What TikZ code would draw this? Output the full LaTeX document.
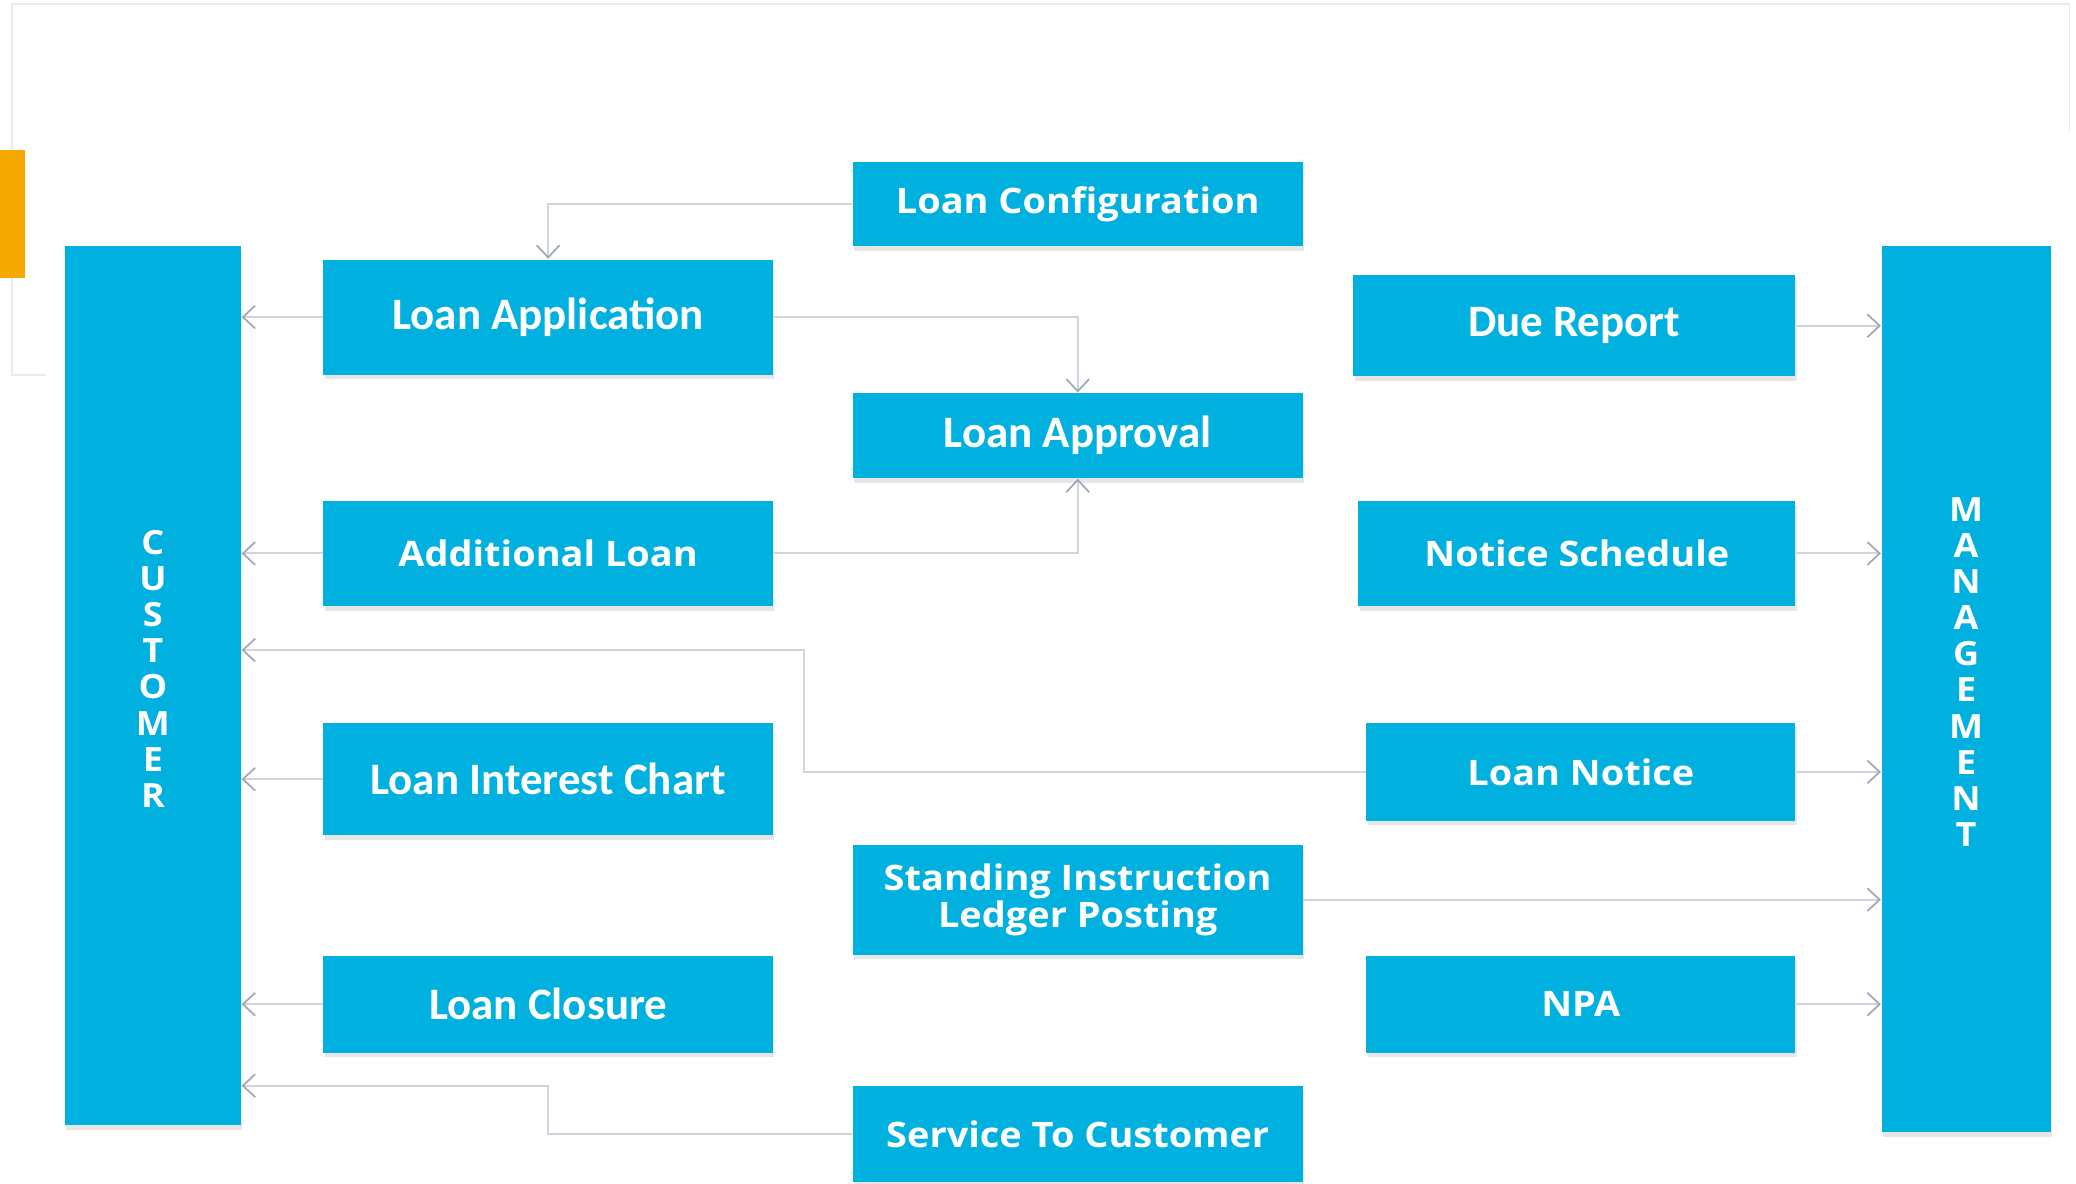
\documentclass[tikz,border=0pt]{standalone}
\usepackage{fontspec}
\setmainfont{Open Sans}[FakeStretch=1.08]
\newfontfamily\slimfont{Carlito}
\usepackage{tikz}
\usetikzlibrary{calc,positioning,shadows,arrows.meta}
\definecolor{boxblue}{RGB}{0,176,223}
\definecolor{linegray}{RGB}{208,212,220}
\definecolor{tipgray}{RGB}{160,168,185}
\definecolor{framegray}{RGB}{232,234,238}
\definecolor{barorange}{RGB}{245,168,0}
\tikzset{
	module/.style={
		fill=boxblue,
		text=white,
		font=\bfseries\fontsize{10}{10.5}\selectfont,
		align=center,
		inner sep=0,
		minimum width=4.5cm,
		drop shadow={shadow xshift=0.4pt, shadow yshift=-1.3pt, opacity=0.2}
	},
	slim/.style={
		font=\slimfont\bfseries\fontsize{12.8}{13}\selectfont
	},
	party/.style={
		fill=boxblue,
		inner sep=0,
		drop shadow={shadow xshift=0.4pt, shadow yshift=-1.3pt, opacity=0.2}
	},
	letters/.style={
		text=white,
		font=\bfseries\fontsize{9.5}{10.3}\selectfont,
		align=center,
		inner sep=0
	},
	flow/.style={
		draw=linegray,
		line width=0.6pt,
		-{Straight Barb[length=3.5pt,width=6.5pt,line width=0.5pt,color=tipgray]}
	}
}

\begin{document}
\begin{tikzpicture}[x=0.01324cm, y=-0.01324cm]

	\useasboundingbox (0,0) rectangle (1568,894);

	% Slide frame and marker
	\draw[framegray, line width=0.5pt] (35,283) -- (9,283) -- (9,3) -- (1563,3) -- (1563,100);
	\fill[barorange] (0,113) rectangle (19,210);

	%% Customer and Management
	\node[party, minimum width=1.76cm, minimum height=8.79cm] (cust) at (115.5,518) {};
	\node[party, minimum width=1.69cm, minimum height=8.86cm] (mgmt) at (1485,520.5) {};
	\node[letters] (custtxt) at (115.5,505) {C\\U\\S\\T\\O\\M\\E\\R};
	\node[letters] (mgmttxt) at (1485,507.5) {M\\A\\N\\A\\G\\E\\M\\E\\N\\T};

	%% Left column
	\node[module, slim, minimum height=1.152cm] (app) at (414,239.5) {Loan Application};
	\node[module, minimum height=1.059cm] (addl) at (414,418) {Additional Loan};
	\node[module, slim, minimum height=1.125cm] (chart) at (414,588.5) {Loan Interest Chart};
	\node[module, slim, minimum height=0.967cm] (closure) at (414,758.5) {Loan Closure};

	%% Middle column
	\node[module, minimum height=0.847cm] (config) at (814,154) {Loan Configuration};
	\node[module, slim, minimum height=0.847cm] (approval) at (814,329) {Loan Approval};
	\node[module, minimum height=1.099cm] (ledger) at (814,679.5) {Standing Instruction\\Ledger Posting};
	\node[module, minimum height=0.967cm] (service) at (814,856.5) {Service To Customer};

	%% Right column
	\node[module, slim, minimum width=4.42cm, minimum height=1.006cm] (due) at (1189,246) {Due Report};
	\node[module, minimum width=4.37cm, minimum height=1.059cm] (schedule) at (1191,418) {Notice Schedule};
	\node[module, minimum width=4.29cm, minimum height=0.980cm] (notice) at (1194,583) {Loan Notice};
	\node[module, minimum width=4.29cm, minimum height=0.967cm] (npa) at (1194,758.5) {NPA};

	% Bends
	\coordinate (noticebend) at (607,491);
	\coordinate (servicebend) at (414,820);

	%% Connectors
	\draw[flow] (config.west) -| (app.north);
	\draw[flow] (app.east) -| (approval.north);
	\draw[flow] (addl.east) -| (approval.south);

	\draw[flow] (app.west) -- (app.west -| cust.east);
	\draw[flow] (addl.west) -- (addl.west -| cust.east);
	\draw[flow] (chart.west) -- (chart.west -| cust.east);
	\draw[flow] (closure.west) -- (closure.west -| cust.east);
	\draw[flow] (notice.west) -| (noticebend) -- (noticebend -| cust.east);
	\draw[flow] (service.west) -| (servicebend) -- (servicebend -| cust.east);

	\draw[flow] (due.east) -- (due.east -| mgmt.west);
	\draw[flow] (schedule.east) -- (schedule.east -| mgmt.west);
	\draw[flow] (notice.east) -- (notice.east -| mgmt.west);
	\draw[flow] (ledger.east) -- (ledger.east -| mgmt.west);
	\draw[flow] (npa.east) -- (npa.east -| mgmt.west);

\end{tikzpicture}
\end{document}
